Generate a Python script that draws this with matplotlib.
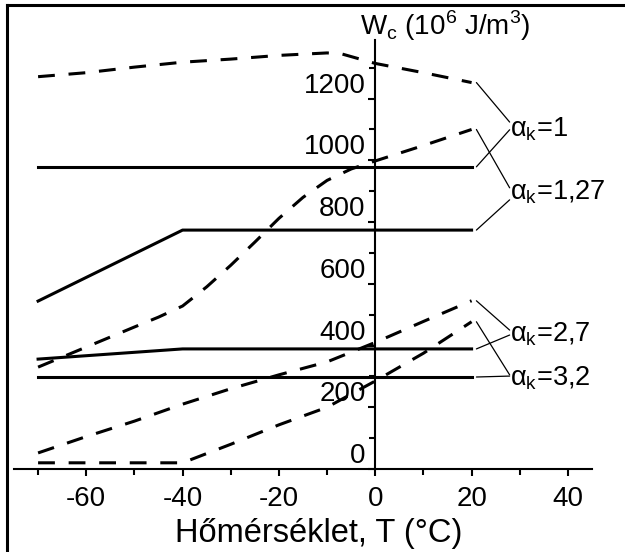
import matplotlib
matplotlib.use("Agg")
import matplotlib.pyplot as plt
from matplotlib.lines import Line2D
from matplotlib.ticker import MultipleLocator

plt.rcParams['font.family'] = ['Liberation Sans', 'DejaVu Sans']
plt.rcParams['axes.unicode_minus'] = False

# alpha_k = 1
t_a1_dash = [-70, -60, -50, -40, -30, -20, -10, -7, 0, 10, 20]
w_a1_dash = [1271, 1284, 1302, 1318, 1328, 1340, 1348, 1345, 1314, 1284, 1252]
t_a1_solid = [-70, 20]
w_a1_solid = [979, 979]

# alpha_k = 1,27
t_a127_dash = [-70, -60, -50, -45, -40, -35, -30, -25, -20, -15, -10, -5, 0, 10, 20]
w_a127_dash = [330, 395, 460, 492, 528, 590, 660, 735, 812, 880, 935, 972, 998, 1048, 1100]
t_a127_solid = [-70, -40, 20]
w_a127_solid = [544, 774, 774]

# alpha_k = 2,7
t_a27_dash = [-70, -60, -50, -40, -30, -20, -10, 0, 10, 20]
w_a27_dash = [52, 105, 155, 210, 260, 305, 347, 410, 478, 545]
t_a27_solid = [-70, -40, 20]
w_a27_solid = [356, 389, 389]

# alpha_k = 3,2
t_a32_dash = [-70, -40, -30, -20, -10, 0, 10, 20]
w_a32_dash = [20, 20, 80, 143, 200, 285, 375, 477]
t_a32_solid = [-70, 20]
w_a32_solid = [298, 298]

labels = ['α$_\\mathregular{k}$=1', 'α$_\\mathregular{k}$=1,27',
          'α$_\\mathregular{k}$=2,7', 'α$_\\mathregular{k}$=3,2']


def main():
    fig = plt.figure(figsize=(6.25, 5.52), dpi=100)
    ax = fig.add_axes([0.0224, 0.1504, 0.9248, 0.7772])

    dash = (0, (5.5, 4.5))
    lw = 2.2
    curves = [
        (t_a1_dash, w_a1_dash, t_a1_solid, w_a1_solid),
        (t_a127_dash, w_a127_dash, t_a127_solid, w_a127_solid),
        (t_a27_dash, w_a27_dash, t_a27_solid, w_a27_solid),
        (t_a32_dash, w_a32_dash, t_a32_solid, w_a32_solid),
    ]
    for td, wd, ts, ws in curves:
        ax.plot(td, wd, color='black', lw=lw, linestyle=dash, clip_on=False)
        ax.plot(ts, ws, color='black', lw=lw, clip_on=False)

    # label text (x, baseline) and where the leader lines end
    text_pos = [1076, 872, 412, 272]
    leader_dash = [1124, 911, 450, 305]
    leader_solid = [1099, 872, 434, 301]
    for i, (td, wd, ts, ws) in enumerate(curves):
        ax.text(28.0, text_pos[i], labels[i], fontsize=19.5, ha='left', va='baseline')
        ax.annotate('', xy=(21, wd[-1]), xytext=(27.9, leader_dash[i]),
                    arrowprops=dict(arrowstyle='-', lw=0.9, color='black',
                                    shrinkA=0, shrinkB=0))
        ax.annotate('', xy=(21, ws[-1]), xytext=(27.9, leader_solid[i]),
                    arrowprops=dict(arrowstyle='-', lw=0.9, color='black',
                                    shrinkA=0, shrinkB=0))

    ax.set_xlim(-75, 45)
    ax.set_ylim(0, 1390)
    ax.spines['top'].set_visible(False)
    ax.spines['right'].set_visible(False)
    ax.spines['left'].set_position(('data', 0))
    ax.spines['left'].set_linewidth(1.5)
    ax.spines['bottom'].set_linewidth(1.5)
    ax.set_facecolor('none')

    ax.xaxis.set_major_locator(MultipleLocator(20))
    ax.xaxis.set_minor_locator(MultipleLocator(10))
    ax.yaxis.set_major_locator(MultipleLocator(200))
    ax.yaxis.set_minor_locator(MultipleLocator(100))
    ax.tick_params(axis='x', which='major', direction='out', length=5, width=1.5,
                   pad=7, labelsize=20)
    ax.tick_params(axis='x', which='minor', direction='out', length=4, width=1.5)
    ax.tick_params(axis='y', which='major', direction='out', length=5, width=1.5,
                   pad=2, labelsize=20)
    ax.tick_params(axis='y', which='minor', direction='out', length=4, width=1.5)
    plt.setp(ax.get_yticklabels(), va='bottom')

    ax.set_xlabel('Hőmérséklet, T (°C)', fontsize=23.5)
    ax.xaxis.set_label_coords(0.528, -0.114)

    fig.text(360 / 625, 1 - 35 / 552,
             'W$_\\mathregular{c}$ (10$^\\mathregular{6}$ J/m$^\\mathregular{3}$)',
             fontsize=20, ha='left', va='baseline')

    # scan frame (top and left edge)
    fig.add_artist(Line2D([7 / 625, 1], [1 - 5 / 552, 1 - 5 / 552], color='black', lw=2.2))
    fig.add_artist(Line2D([7 / 625, 7 / 625], [0, 1 - 5 / 552], color='black', lw=2.2))

    fig.savefig('out.png', dpi=100)


if __name__ == '__main__':
    main()
